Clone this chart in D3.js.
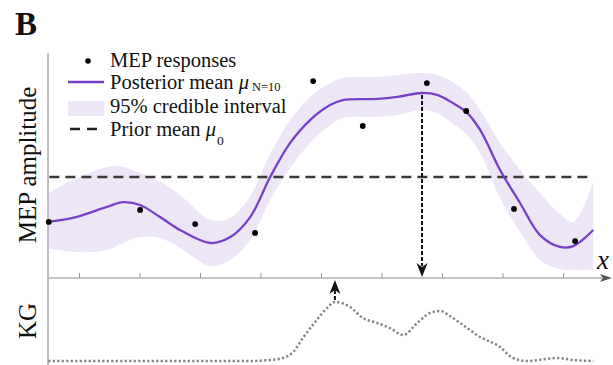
<!DOCTYPE html>
<html>
<head>
<meta charset="utf-8">
<script src="https://cdn.jsdelivr.net/npm/d3@7"></script>
<style>
  html, body { margin: 0; padding: 0; background: #fff; }
  svg { display: block; }
  text { font-family: "Liberation Serif", "DejaVu Serif", serif; fill: #111; }
</style>
</head>
<body>
<svg id="chart" width="613" height="365"></svg>
<script>
// ---------------- data ----------------
const xGrid     = [0.49, 0.90, 1.46, 1.73, 2.01, 2.34, 2.67, 3.17, 3.50, 3.83, 4.16, 4.49, 4.82, 5.15, 5.36, 5.93, 6.26, 6.67, 6.92, 7.18, 7.40, 7.63, 7.96, 8.29, 8.62, 8.95, 9.17, 9.50];
const postMean  = [25.5, 27.3, 32.3, 34.5, 33.2, 27.7, 21.8, 15.9, 18.6, 27.7, 45.9, 61.4, 71.8, 78.6, 80.9, 81.4, 82.3, 84.1, 83.2, 79.5, 75.5, 67.3, 49.1, 34.1, 19.5, 14.1, 14.5, 21.8];
const ciUpper   = [38.6, 44.5, 50.5, 50.5, 47.7, 43.6, 37.7, 26.4, 27.3, 37.3, 56.4, 71.8, 82.3, 88.6, 90.9, 91.4, 92.3, 93.2, 92.3, 89.1, 84.5, 76.4, 61.4, 49.1, 38.6, 29.1, 25.5, 43.6];
const ciLower   = [13.6, 11.8, 12.7, 15.9, 18.6, 18.2, 13.6, 5.5, 8.2, 17.3, 35.5, 50.0, 61.4, 69.5, 72.7, 73.2, 74.1, 76.4, 75.0, 70.0, 65.5, 56.8, 36.4, 20.9, 8.2, 4.1, 3.6, 3.6];

const mepX      = [0.50, 2.01, 2.92, 3.91, 4.87, 5.69, 6.75, 7.40, 8.19, 9.20];
const mepY      = [25.5, 30.9, 24.5, 20.5, 89.5, 69.1, 88.6, 75.9, 31.4, 16.8];

const priorMean = 45.9;

const kgX       = [0.49, 1.35, 2.17, 3.00, 3.83, 4.16, 4.37, 4.54, 4.70, 4.93, 5.10, 5.23, 5.48, 5.69, 5.93, 6.14, 6.36, 6.59, 6.80, 6.97, 7.13, 7.30, 7.63, 7.96, 8.17, 8.40, 8.73, 8.90, 9.17, 9.50];
const kgVal     = [0, 0, 0, 0, 0, 1.2, 3.8, 11.2, 28.8, 51.2, 66.2, 73.8, 67.5, 53.8, 47.5, 41.2, 32.5, 47.5, 60.0, 62.5, 56.2, 47.5, 30.0, 17.5, 3.8, 0, 2.5, 3.8, 1.2, 0];

const xTicks    = [1, 2, 3, 4, 5, 6, 7, 8, 9];
const legendLabels = ["MEP responses", "Posterior mean ", "95% credible interval", "Prior mean "];

// ---------------- scales ----------------
const svg = d3.select("#chart");
const x = d3.scaleLinear().domain([0, 10]).range([18.5, 623.5]);
const y = d3.scaleLinear().domain([0, 100]).range([278, 58]);
const yKG = d3.scaleLinear().domain([0, 100]).range([361, 281]);

const purple = "#7640c8";
const band = "#ece6f6";
const axisGrey = "#b3b3b3";

// ---------------- credible band ----------------
const bandData = xGrid.map((d, i) => ({x: d, lo: ciLower[i], hi: ciUpper[i], m: postMean[i]}));
svg.append("path")
  .datum(bandData)
  .attr("fill", band)
  .attr("d", d3.area().curve(d3.curveCatmullRom.alpha(0.5))
    .x(d => x(d.x)).y0(d => y(d.lo)).y1(d => y(d.hi)));

// ---------------- axes ----------------
const xAxisY = y(0);
svg.append("line").attr("x1", x(0.488)).attr("x2", x(0.488)).attr("y1", 53).attr("y2", 365)
  .attr("stroke", axisGrey).attr("stroke-width", 1.6);
svg.append("line").attr("x1", x(0.488)).attr("x2", 606).attr("y1", xAxisY).attr("y2", xAxisY)
  .attr("stroke", axisGrey).attr("stroke-width", 1.6);
svg.append("path")
  .attr("d", `M${612},${xAxisY} L${600},${xAxisY - 4} L${603},${xAxisY} L${600},${xAxisY + 4} Z`)
  .attr("fill", "#555");
const axis = d3.axisTop(x).tickValues(xTicks).tickSize(5).tickFormat("");
const gAxis = svg.append("g").attr("transform", `translate(0,${xAxisY})`).call(axis);
gAxis.select(".domain").remove();
gAxis.selectAll(".tick line").attr("stroke", "#999").attr("stroke-width", 1);

// ---------------- prior mean ----------------
svg.append("line")
  .attr("x1", x(0.51)).attr("x2", x(9.5))
  .attr("y1", y(priorMean)).attr("y2", y(priorMean))
  .attr("stroke", "#3a3a3a").attr("stroke-width", 2.6)
  .attr("stroke-dasharray", "10,6");

// ---------------- posterior mean ----------------
svg.append("path")
  .datum(bandData)
  .attr("fill", "none").attr("stroke", purple).attr("stroke-width", 2.3)
  .attr("d", d3.line().curve(d3.curveCatmullRom.alpha(0.5)).x(d => x(d.x)).y(d => y(d.m)));

// ---------------- MEP responses ----------------
svg.append("g").selectAll("circle")
  .data(mepX.map((d, i) => ({x: d, y: mepY[i]})))
  .join("circle")
  .attr("cx", d => x(d.x)).attr("cy", d => y(d.y)).attr("r", 2.9).attr("fill", "#000");

// ---------------- KG curve ----------------
svg.append("path")
  .datum(kgX.map((d, i) => ({x: d, v: kgVal[i]})))
  .attr("fill", "none").attr("stroke", "#8a8580").attr("stroke-width", 2.5)
  .attr("stroke-dasharray", "2.3,2.2")
  .attr("d", d3.line().curve(d3.curveMonotoneX).x(d => x(d.x)).y(d => yKG(d.v)));

// ---------------- arrows ----------------
const iMax = d3.maxIndex(postMean);
const ax1 = x(xGrid[iMax]);
svg.append("line").attr("x1", ax1).attr("x2", ax1)
  .attr("y1", y(postMean[iMax]) + 2).attr("y2", xAxisY - 12)
  .attr("stroke", "#111").attr("stroke-width", 2).attr("stroke-dasharray", "4,2");
svg.append("path")
  .attr("d", `M${ax1},${xAxisY - 1} L${ax1 - 5.5},${xAxisY - 15} L${ax1},${xAxisY - 11} L${ax1 + 5.5},${xAxisY - 15} Z`)
  .attr("fill", "#111");

const kMax = d3.maxIndex(kgVal);
const ax2 = x(kgX[kMax]);
svg.append("line").attr("x1", ax2).attr("x2", ax2)
  .attr("y1", yKG(kgVal[kMax]) - 2).attr("y2", xAxisY + 12)
  .attr("stroke", "#111").attr("stroke-width", 2).attr("stroke-dasharray", "4,2");
svg.append("path")
  .attr("d", `M${ax2},${xAxisY + 2} L${ax2 - 5.5},${xAxisY + 16} L${ax2},${xAxisY + 12} L${ax2 + 5.5},${xAxisY + 16} Z`)
  .attr("fill", "#111");

// ---------------- labels ----------------
svg.append("text").attr("x", 15).attr("y", 35)
  .attr("font-size", 33).attr("font-weight", "bold").text("B");

svg.append("text")
  .attr("transform", `translate(36,165) rotate(-90)`)
  .attr("text-anchor", "middle").attr("font-size", 25).text("MEP amplitude");
svg.append("text")
  .attr("transform", `translate(36,321) rotate(-90)`)
  .attr("text-anchor", "middle").attr("font-size", 25).text("KG");

svg.append("text").attr("x", 597).attr("y", 269)
  .attr("font-size", 27).attr("font-style", "italic").text("x");

// ---------------- legend ----------------
const lg = svg.append("g");
const lx = 110, fs = 20.5;
const rows = [67, 89, 113, 136];
lg.append("circle").attr("cx", 88).attr("cy", 61).attr("r", 2.8).attr("fill", "#000");
lg.append("line").attr("x1", 68).attr("x2", 104).attr("y1", 82).attr("y2", 82)
  .attr("stroke", purple).attr("stroke-width", 2.4);
lg.append("rect").attr("x", 68).attr("y", 101).attr("width", 36).attr("height", 15).attr("fill", band);
lg.append("line").attr("x1", 70).attr("x2", 97).attr("y1", 129).attr("y2", 129)
  .attr("stroke", "#222").attr("stroke-width", 2.4).attr("stroke-dasharray", "10,7");

lg.append("text").attr("x", lx).attr("y", rows[0]).attr("font-size", fs).text(legendLabels[0]);
const t1 = lg.append("text").attr("x", lx).attr("y", rows[1]).attr("font-size", fs);
t1.append("tspan").text(legendLabels[1]);
t1.append("tspan").attr("font-style", "italic").text("μ");
t1.append("tspan").attr("dy", 2).attr("dx", 3).attr("font-size", 12.5).text("N=10");
lg.append("text").attr("x", lx).attr("y", rows[2]).attr("font-size", fs).text(legendLabels[2]);
const t3 = lg.append("text").attr("x", lx).attr("y", rows[3]).attr("font-size", fs);
t3.append("tspan").text(legendLabels[3]);
t3.append("tspan").attr("font-style", "italic").text("μ");
t3.append("tspan").attr("dy", 9).attr("dx", 1).attr("font-size", 13.5).text("0");
</script>
</body>
</html>
